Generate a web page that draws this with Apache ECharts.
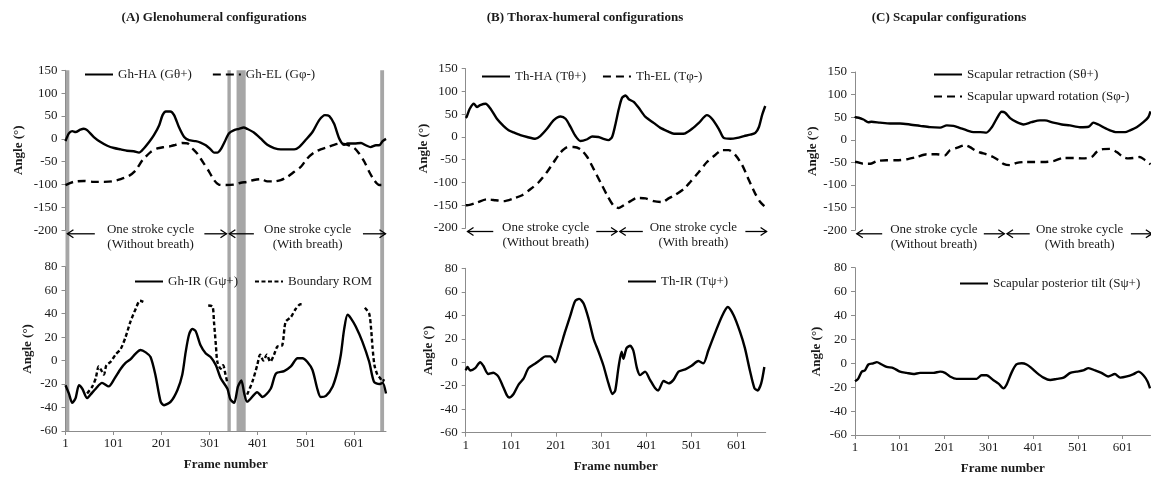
<!DOCTYPE html>
<html><head><meta charset="utf-8">
<script src="https://cdn.jsdelivr.net/npm/echarts@6/dist/echarts.min.js"></script>
<style>html,body{margin:0;padding:0;background:#fff}#c{width:1151px;height:477px}</style>
</head><body><div id="c"></div>
<script>
// ---------- data (frame number, angle in degrees) ----------
const frameTicks = [1, 101, 201, 301, 401, 501, 601];
const panelTitles = ['(A) Glenohumeral configurations', '(B) Thorax-humeral configurations', '(C) Scapular configurations'];
const cycleLabels = [['One stroke cycle', '(Without breath)'], ['One stroke cycle', '(With breath)']];
const bandFrames = [[1, 9], [338, 345], [357, 376], [656, 664]];

const ghHA = [[1,-5],[8,12],[15,17],[22,15],[32,20],[39,22],[46,19],[60,4],[74,-7],[88,-15],[102,-20],[116,-23],[129,-26],[143,-27],[154,-30],[164,-21],[175,-7],[185,8],[196,30],[203,52],[210,60],[219,60],[227,52],[237,26],[248,4],[258,-3],[272,-5],[282,-8],[293,-14],[303,-23],[310,-30],[317,-30],[324,-23],[332,-7],[341,12],[352,19],[362,22],[372,25],[379,22],[393,14],[407,1],[421,-13],[435,-20],[449,-23],[463,-23],[477,-23],[487,-18],[501,-2],[515,15],[529,41],[541,52],[550,50],[560,33],[571,0],[581,-13],[588,-10],[602,-10],[616,-9],[626,-14],[636,-18],[647,-14],[654,-14],[661,-5],[668,0]];
const ghEL = [[1,-101],[18,-94],[39,-92],[60,-94],[81,-94],[98,-93],[116,-88],[133,-81],[147,-69],[161,-47],[178,-29],[192,-21],[206,-18],[220,-16],[230,-13],[244,-9],[255,-10],[265,-21],[275,-32],[289,-54],[300,-72],[310,-90],[320,-100],[334,-101],[352,-100],[366,-96],[379,-94],[393,-90],[407,-88],[421,-93],[435,-93],[449,-90],[463,-83],[477,-72],[491,-61],[504,-43],[518,-30],[532,-23],[546,-18],[560,-13],[574,-10],[588,-13],[602,-20],[612,-32],[623,-50],[633,-72],[643,-90],[654,-101],[668,-101]];
const ghIR = [[1,-21],[8,-28],[15,-36],[22,-32],[29,-21],[36,-24],[46,-32],[53,-29],[64,-24],[77,-19],[91,-22],[102,-16],[116,-7],[126,-2],[136,1],[147,6],[157,9],[168,7],[178,3],[188,-12],[199,-35],[206,-38],[220,-35],[234,-25],[244,-12],[251,7],[258,22],[265,27],[272,25],[282,13],[293,6],[303,3],[314,-4],[324,-15],[338,-24],[344,-33],[352,-36],[360,-22],[367,-17],[373,-28],[379,-35],[400,-27],[411,-31],[428,-24],[439,-11],[456,-9],[470,-5],[484,2],[494,2],[504,-1],[515,-8],[525,-24],[532,-31],[543,-30],[557,-22],[567,-9],[574,5],[581,27],[588,39],[595,36],[605,29],[619,16],[633,-1],[643,-18],[654,-20],[661,-19],[668,-28]];
const romSegments = [
  [[46,-28],[57,-22],[64,-15],[70,-5],[75,-8],[81,-12],[86,-4],[95,-1],[105,5],[116,10],[126,20],[136,33],[147,44],[156,51],[163,50]],
  [[298,47],[307,46],[310,33],[314,13],[317,-1],[324,-7],[329,-4],[334,-12],[338,-19]],
  [[379,-29],[390,-18],[400,-4],[406,5],[413,0],[420,5],[427,-1],[435,5],[442,12],[452,13],[459,33],[470,37],[480,44],[490,48],[497,48]],
  [[624,45],[633,40],[637,27],[640,11],[644,-4],[650,-12],[656,-15],[661,-18],[664,-16]]
];
const thHA = [[1,42],[3,44],[10,62],[19,73],[26,66],[33,70],[45,73],[56,62],[70,40],[85,24],[96,15],[107,10],[122,4],[137,0],[155,-4],[166,2],[181,18],[196,37],[211,45],[222,40],[233,22],[244,2],[255,-9],[270,-5],[281,1],[295,0],[306,-4],[317,-7],[325,0],[332,26],[340,62],[347,86],[355,91],[362,83],[373,77],[384,64],[399,44],[417,31],[432,20],[447,13],[462,7],[476,7],[487,8],[502,18],[517,31],[535,48],[546,40],[561,18],[572,-2],[587,-4],[602,-2],[617,2],[631,5],[642,9],[650,22],[657,48],[664,68]];
const thEL = [[1,-150],[4,-150],[26,-144],[48,-137],[67,-139],[85,-141],[107,-135],[126,-128],[144,-115],[163,-99],[181,-77],[196,-55],[211,-34],[225,-23],[240,-22],[255,-27],[270,-44],[284,-70],[299,-99],[314,-128],[329,-152],[340,-156],[351,-150],[366,-141],[380,-134],[399,-135],[417,-141],[436,-143],[450,-135],[465,-127],[484,-114],[498,-99],[517,-77],[535,-55],[554,-39],[568,-29],[583,-29],[598,-40],[613,-62],[628,-95],[642,-125],[653,-143],[664,-154]];
const thIR = [[1,-7],[5,-4],[11,-7],[22,-5],[33,0],[40,-3],[51,-10],[62,-9],[73,-12],[84,-21],[92,-28],[97,-30],[107,-27],[118,-19],[129,-14],[140,-5],[155,-1],[166,2],[177,5],[188,5],[199,0],[210,12],[221,26],[232,39],[243,52],[252,54],[262,50],[273,37],[284,20],[295,9],[306,-3],[317,-18],[326,-27],[332,-24],[339,-5],[346,9],[350,3],[357,12],[365,14],[372,10],[380,-5],[387,-11],[398,-8],[409,-15],[420,-22],[427,-24],[439,-16],[450,-18],[461,-15],[472,-8],[487,-6],[501,-3],[516,1],[527,-1],[538,10],[553,25],[568,39],[581,47],[594,40],[608,26],[619,12],[630,-7],[640,-22],[647,-24],[655,-18],[662,-4]];
const scRet = [[1,48],[3,50],[20,45],[31,39],[38,40],[57,38],[80,36],[102,36],[124,34],[147,31],[169,28],[192,27],[207,32],[222,31],[237,26],[252,21],[267,17],[282,17],[296,16],[308,28],[319,47],[330,62],[338,60],[349,48],[364,39],[379,34],[397,39],[416,43],[427,43],[446,38],[465,34],[483,32],[506,28],[525,29],[536,38],[547,34],[558,28],[573,21],[588,17],[607,17],[618,21],[633,28],[648,39],[659,50],[664,63]];
const scUp = [[1,-49],[4,-49],[20,-53],[35,-53],[50,-47],[72,-45],[94,-45],[117,-43],[139,-38],[162,-32],[184,-32],[203,-34],[214,-23],[229,-18],[248,-12],[259,-16],[270,-23],[282,-28],[296,-32],[311,-38],[323,-45],[334,-53],[349,-56],[364,-51],[382,-49],[401,-49],[424,-49],[446,-47],[469,-40],[491,-40],[513,-41],[532,-38],[543,-27],[555,-21],[573,-20],[588,-27],[603,-38],[614,-41],[626,-40],[640,-38],[652,-45],[664,-54]];
const scTilt = [[1,-15],[8,-13],[16,-7],[23,-6],[31,-1],[42,0],[50,1],[61,-1],[72,-3],[87,-4],[102,-7],[117,-8],[132,-9],[147,-8],[162,-8],[177,-8],[192,-7],[203,-8],[214,-11],[229,-13],[244,-13],[259,-13],[274,-13],[285,-10],[296,-10],[311,-14],[323,-17],[334,-21],[341,-18],[352,-8],[363,-1],[375,0],[386,-1],[397,-4],[409,-8],[424,-12],[439,-14],[454,-13],[469,-12],[484,-8],[498,-7],[513,-6],[525,-4],[540,-6],[554,-8],[569,-11],[584,-9],[596,-12],[611,-11],[626,-9],[637,-7],[648,-10],[657,-15],[663,-21]];

// ---------- layout / style ----------
const SERIF = '"Liberation Serif", "Times New Roman", serif';
const AXIS_GRAY = '#8c8c8c';
const TXT = '#1a1a1a';
const romData = [];
romSegments.forEach((seg, i) => { if (i) romData.push([seg[0][0] - 1, '-']); seg.forEach(p => romData.push(p)); });

const grids = [
  {left: 65.5, top: 70.3, width: 320.5, height: 160},
  {left: 65.5, top: 266.7, width: 320.5, height: 164.3},
  {left: 465.7, top: 68.7, width: 300, height: 159.3},
  {left: 465.7, top: 268.3, width: 300, height: 164.4},
  {left: 855, top: 72, width: 295.5, height: 158.3},
  {left: 855, top: 267.7, width: 295.5, height: 167.3}
].map(g => Object.assign({containLabel: false, outerBoundsMode: 'none'}, g));
const xMax = [668, 668, 665, 665, 664, 664];
const yNameGap = [40, 31, 35, 31, 36, 32];

const xAxes = grids.map((g, i) => {
  const bottom = i % 2 === 1;
  return {
    type: 'value', gridIndex: i, min: 1, max: xMax[i], show: bottom,
    axisLine: {show: true, onZero: false, lineStyle: {color: AXIS_GRAY, width: 1}},
    axisTick: {show: true, length: 4, customValues: frameTicks, lineStyle: {color: AXIS_GRAY}},
    axisLabel: {customValues: frameTicks, margin: 6, fontFamily: SERIF, fontSize: 13, color: TXT},
    splitLine: {show: false},
    name: bottom ? 'Frame number' : '', nameLocation: 'middle', nameGap: 27,
    nameTextStyle: {fontFamily: SERIF, fontSize: 13, fontWeight: 'bold', color: TXT}
  };
});
const yAxes = grids.map((g, i) => {
  const bottom = i % 2 === 1;
  return {
    type: 'value', gridIndex: i,
    min: bottom ? -60 : -200, max: bottom ? 80 : 150, interval: bottom ? 20 : 50,
    axisLine: {show: true, lineStyle: {color: AXIS_GRAY, width: 1}},
    axisTick: {show: true, length: 4, lineStyle: {color: AXIS_GRAY}},
    axisLabel: {margin: 8, fontFamily: SERIF, fontSize: 13, color: TXT},
    splitLine: {show: false},
    name: 'Angle (°)', nameLocation: 'middle', nameRotate: 90, nameGap: yNameGap[i],
    nameTextStyle: {fontFamily: SERIF, fontSize: 13, fontWeight: 'bold', color: TXT}
  };
});

function line(name, idx, data, dash) {
  return {
    name, type: 'line', xAxisIndex: idx, yAxisIndex: idx, data,
    symbol: 'none', showSymbol: false, smooth: 0.25, connectNulls: false,
    lineStyle: {color: '#000', width: 2.4, type: dash || 'solid'},
    itemStyle: {color: '#000'}, emphasis: {disabled: true}
  };
}
const DASH_LONG = [8, 5];
const DASH_SHORT = [4, 2.5];
const series = [
  line('Gh-HA (Gθ+)', 0, ghHA),
  line('Gh-EL (Gφ-)', 0, ghEL, DASH_LONG),
  line('Gh-IR (Gψ+)', 1, ghIR),
  line('Boundary ROM', 1, romData, DASH_SHORT),
  line('Th-HA (Tθ+)', 2, thHA),
  line('Th-EL (Tφ-)', 2, thEL, DASH_LONG),
  line('Th-IR (Tψ+)', 3, thIR),
  line('Scapular retraction (Sθ+)', 4, scRet),
  line('Scapular upward rotation (Sφ-)', 4, scUp, DASH_LONG),
  line('Scapular posterior tilt (Sψ+)', 5, scTilt)
];

const legTxt = {fontFamily: SERIF, fontSize: 13, color: TXT};
function legend(names, left, top, extra) {
  return Object.assign({data: names, left, top, itemWidth: 28, itemHeight: 14, itemGap: 20,
    itemStyle: {opacity: 0, borderWidth: 0},
    textStyle: legTxt, selectedMode: false, padding: 0}, extra || {});
}
const legends = [
  legend(['Gh-HA (Gθ+)', 'Gh-EL (Gφ-)'], 84, 68),
  legend(['Gh-IR (Gψ+)', 'Boundary ROM'], 134, 275, {itemGap: 16}),
  legend(['Th-HA (Tθ+)', 'Th-EL (Tφ-)'], 481, 70, {itemGap: 16}),
  legend(['Th-IR (Tψ+)'], 627, 275),
  legend(['Scapular retraction (Sθ+)', 'Scapular upward rotation (Sφ-)'], 933, 68, {orient: 'vertical', itemGap: 9}),
  legend(['Scapular posterior tilt (Sψ+)'], 959, 277)
];

const chart = echarts.init(document.getElementById('c'), null, {renderer: 'canvas'});
chart.setOption({
  animation: false,
  backgroundColor: '#fff',
  grid: grids, xAxis: xAxes, yAxis: yAxes, series, legend: legends
});

// ---------- annotations placed through the chart's own scales ----------
const graphics = [];
// grey bands (panel A, spanning both plots)
bandFrames.forEach(([f1, f2]) => {
  const p1 = chart.convertToPixel({gridIndex: 0}, [f1, 150]);
  const p2 = chart.convertToPixel({gridIndex: 1}, [f2, -60]);
  graphics.push({type: 'rect', z: -1, silent: true,
    shape: {x: p1[0], y: p1[1], width: p2[0] - p1[0], height: p2[1] - p1[1]},
    style: {fill: '#a6a6a6'}});
});
// panel titles
[214, 585, 949].forEach((cx, k) => {
  graphics.push({type: 'text', x: cx, y: 18,
    style: {text: panelTitles[k], font: 'bold 13px ' + SERIF, fill: TXT, textAlign: 'center', textVerticalAlign: 'middle'}});
});
// stroke-cycle arrows and labels below the top plots
const arrowSpecs = [[62, 5], [290, 336], [393, 342], [620, 667]]; // [tail frame, head frame]
const textCenters = [178, 505];
[0, 2, 4].forEach(gi => {
  const base = chart.convertToPixel({gridIndex: gi}, [1, -200])[1];
  const ay = base + 3.5;
  arrowSpecs.forEach(([ft, fh]) => {
    const xt = chart.convertToPixel({gridIndex: gi}, [ft, -200])[0];
    const xh = chart.convertToPixel({gridIndex: gi}, [fh, -200])[0];
    const dir = xt > xh ? 1 : -1;
    graphics.push({type: 'line', shape: {x1: xt, y1: ay, x2: xh, y2: ay}, style: {stroke: '#000', lineWidth: 1.3}});
    graphics.push({type: 'polyline', shape: {points: [[xh + dir * 6, ay - 4], [xh, ay], [xh + dir * 6, ay + 4]]},
      style: {stroke: '#000', lineWidth: 1.3, fill: null}});
  });
  textCenters.forEach((fc, k) => {
    const x = chart.convertToPixel({gridIndex: gi}, [fc, -200])[0];
    graphics.push({type: 'text', x, y: base - 0.5,
      style: {text: cycleLabels[k][0], font: '13px ' + SERIF, fill: TXT, textAlign: 'center', textVerticalAlign: 'middle'}});
    graphics.push({type: 'text', x, y: base + 14.5,
      style: {text: cycleLabels[k][1], font: '13px ' + SERIF, fill: TXT, textAlign: 'center', textVerticalAlign: 'middle'}});
  });
});
chart.setOption({graphic: graphics});
</script>
</body></html>
